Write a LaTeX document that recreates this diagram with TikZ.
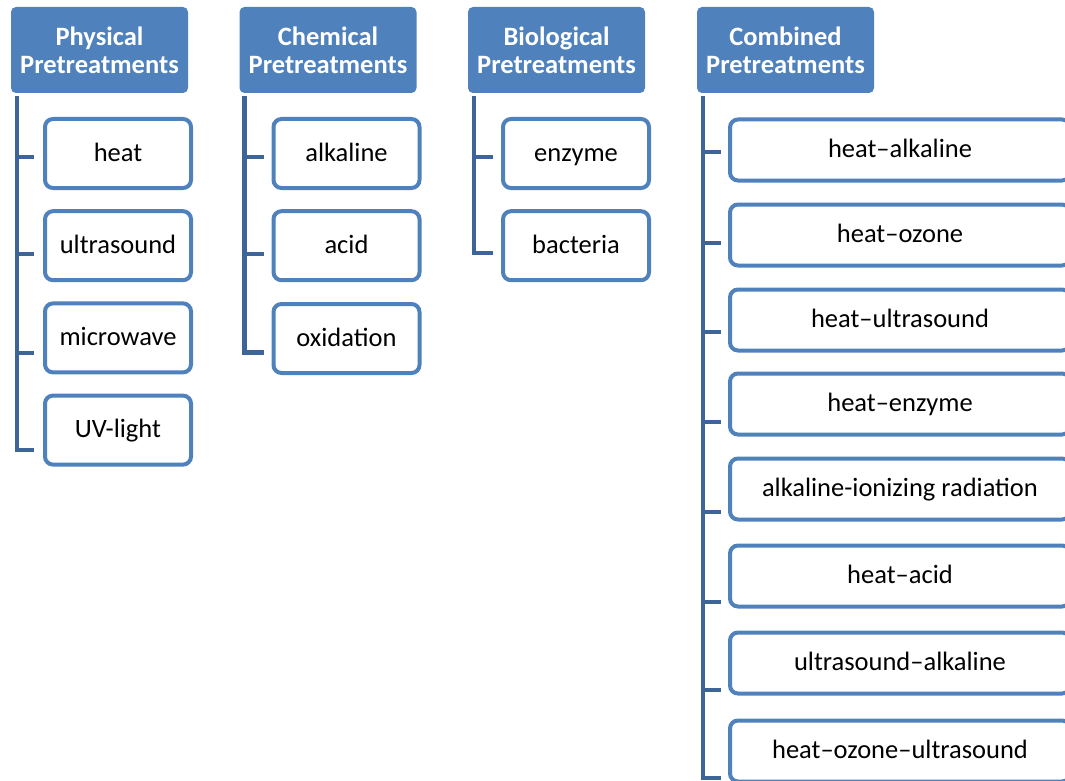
\documentclass[tikz,border=0pt]{standalone}
\usepackage{fontspec}
\setmainfont{Carlito}
\usetikzlibrary{calc}
\definecolor{hdrfill}{RGB}{79,129,189}
\definecolor{boxline}{RGB}{79,129,189}
\definecolor{connline}{RGB}{62,101,153}
\tikzset{
  hdr/.style={fill=hdrfill, rounded corners=5pt, minimum width=177pt, minimum height=86pt,
    inner sep=0pt, align=center, text=white, font=\fontsize{26.5}{28}\selectfont\bfseries},
  item/.style={draw=boxline, line width=4pt, fill=white, rounded corners=8pt,
    minimum width=146pt, minimum height=69pt, inner sep=0pt, align=center,
    text height=19pt, text depth=4pt,
    font=\fontsize{26.5}{31}\selectfont},
  wideitem/.style={item, minimum width=340pt, minimum height=61pt},
  conn/.style={draw=connline, line width=4.5pt, line cap=butt, line join=miter}
}
\begin{document}
\begin{tikzpicture}[x=1pt,y=-1pt]
\useasboundingbox (0,0) rectangle (1065,781);
\clip (0,0) rectangle (1065,781);
% headers
\node[hdr] (Ph) at (99.5,50) {Physical\\Pretreatments};
\node[hdr] (Ch) at (328,50) {Chemical\\Pretreatments};
\node[hdr] (Bh) at (556.5,50) {Biological\\Pretreatments};
\node[hdr] (Kh) at (785.5,50) {Combined\\Pretreatments};
% physical
\node[item] (P1) at (118,153.5) {heat};
\node[item] (P2) at (118,245.7) {ultrasound};
\node[item] (P3) at (118,337.9) {microwave};
\node[item] (P4) at (118,430.1) {UV-light};
% chemical
\node[item] (C1) at (346.5,153.5) {alkaline};
\node[item] (C2) at (346.5,245.7) {acid};
\node[item] (C3) at (346.5,338.5) {oxidation};
% biological
\node[item] (B1) at (576,153.5) {enzyme};
\node[item] (B2) at (576,245.7) {bacteria};
% combined
\node[wideitem] (K1) at (900,150) {heat–alkaline};
\node[wideitem] (K2) at (900,235) {heat–ozone};
\node[wideitem] (K3) at (900,320) {heat–ultrasound};
\node[wideitem] (K4) at (900,404) {heat–enzyme};
\node[wideitem] (K5) at (900,489) {alkaline-ionizing radiation};
\node[wideitem] (K6) at (900,576) {heat–acid};
\node[wideitem] (K7) at (900,663) {ultrasound–alkaline};
\node[wideitem] (K8) at (900,751) {heat–ozone–ultrasound};
% spine tops
\coordinate (Ptop) at ($(Ph.south west)+(6,3)$);
\coordinate (Ctop) at ($(Ch.south west)+(5,3)$);
\coordinate (Btop) at ($(Bh.south west)+(6,3)$);
\coordinate (Ktop) at ($(Kh.south west)+(6,3)$);
% tick ends
\coordinate (p1) at ($(P1.west)+(-9,3.5)$);
\coordinate (p2) at ($(P2.west)+(-9,8.3)$);
\coordinate (p3) at ($(P3.west)+(-9,15.1)$);
\coordinate (p4) at ($(P4.west)+(-9,19.9)$);
\coordinate (c1) at ($(C1.west)+(-8,3.5)$);
\coordinate (c2) at ($(C2.west)+(-8,8.3)$);
\coordinate (c3) at ($(C3.west)+(-8,13.8)$);
\coordinate (b1) at ($(B1.west)+(-8,3.5)$);
\coordinate (b2) at ($(B2.west)+(-8,7.5)$);
\coordinate (k1) at ($(K1.west)+(-7,2)$);
\coordinate (k2) at ($(K2.west)+(-7,8)$);
\coordinate (k3) at ($(K3.west)+(-7,12)$);
\coordinate (k4) at ($(K4.west)+(-7,18)$);
\coordinate (k5) at ($(K5.west)+(-7,23)$);
\coordinate (k6) at ($(K6.west)+(-7,26)$);
\coordinate (k7) at ($(K7.west)+(-7,27)$);
\coordinate (k8) at ($(K8.west)+(-7,27)$);
% connectors
\draw[conn] (Ptop) |- (p4);
\foreach \t in {p1,p2,p3} \draw[conn, line width=4pt] (Ptop |- \t) -- (\t);
\draw[conn] (Ctop) |- (c3);
\foreach \t in {c1,c2} \draw[conn, line width=4pt] (Ctop |- \t) -- (\t);
\draw[conn] (Btop) |- (b2);
\draw[conn, line width=4pt] (Btop |- b1) -- (b1);
\draw[conn] (Ktop) |- (k8);
\foreach \t in {k1,k2,k3,k4,k5,k6,k7} \draw[conn, line width=4pt] (Ktop |- \t) -- (\t);
\end{tikzpicture}
\end{document}
